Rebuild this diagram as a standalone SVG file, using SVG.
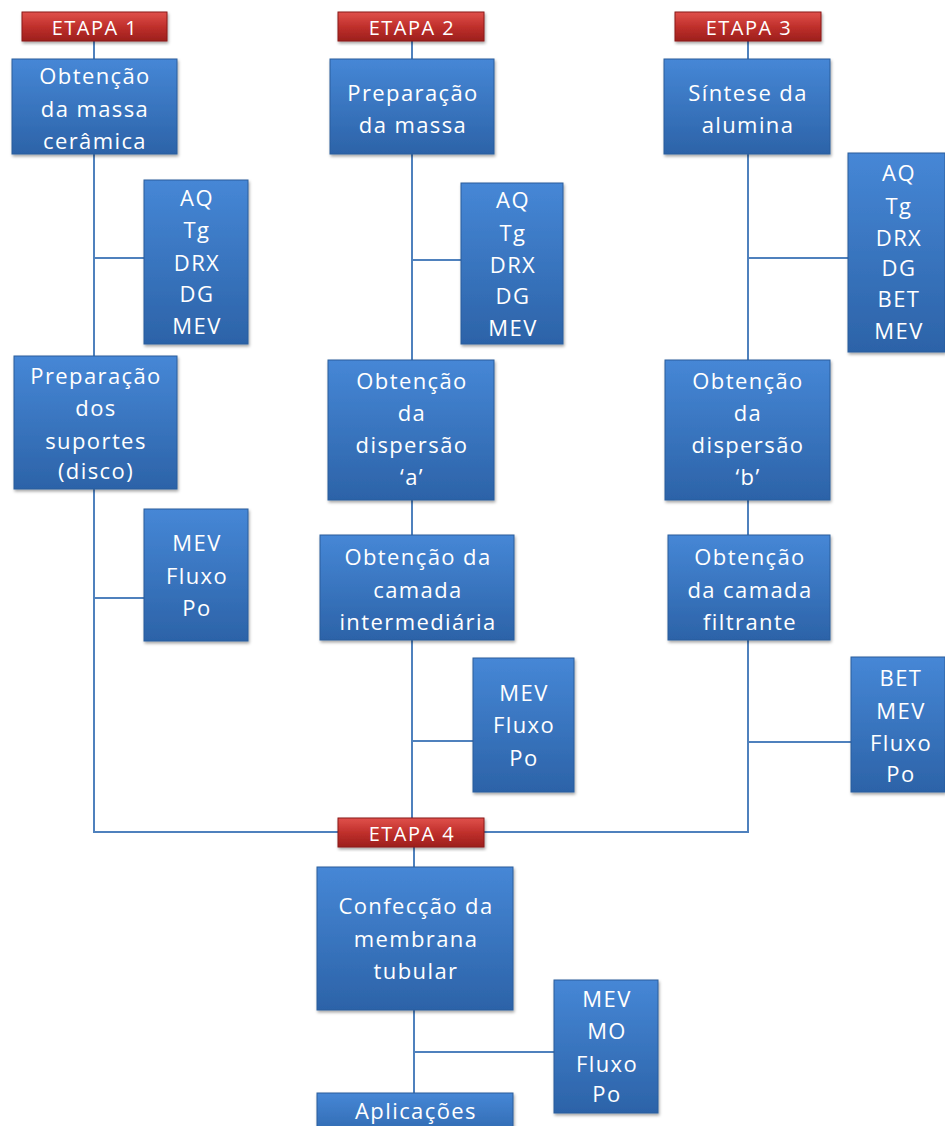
<svg xmlns="http://www.w3.org/2000/svg" width="945" height="1126" viewBox="0 0 945 1126">
<defs>
<linearGradient id="gb" x1="0" y1="0" x2="0" y2="1">
<stop offset="0" stop-color="#4687d6"/>
<stop offset="1" stop-color="#2c63a8"/>
</linearGradient>
<linearGradient id="gr" x1="0" y1="0" x2="0" y2="1">
<stop offset="0" stop-color="#e0504b"/>
<stop offset="0.5" stop-color="#c0302c"/>
<stop offset="1" stop-color="#9c1f1c"/>
</linearGradient>
<filter id="sh" x="-10%" y="-10%" width="125%" height="125%">
<feDropShadow dx="1" dy="2" stdDeviation="1.5" flood-color="#000" flood-opacity="0.35"/>
</filter>
</defs>
<style>
.b{fill:url(#gb);stroke:#2a5d9c;stroke-width:1;filter:url(#sh)}
.r{fill:url(#gr);stroke:#8a1a18;stroke-width:1;filter:url(#sh)}
.t{font-family:"Open Sans","Noto Sans",sans-serif;font-size:22px;fill:#fff;text-anchor:middle;dominant-baseline:central;letter-spacing:1.4px}
.e{font-family:"Open Sans","Noto Sans",sans-serif;font-size:20px;fill:#fff;text-anchor:middle;dominant-baseline:central;letter-spacing:1.5px}
.c{fill:none;stroke:#4f81bd;stroke-width:2}
</style>
<rect width="945" height="1126" fill="#fff"/>
<g id="connectors">
<path class="c" d="M94 41V832H338"/>
<path class="c" d="M94 258H144"/>
<path class="c" d="M94 598H144"/>
<path class="c" d="M412 41V818"/>
<path class="c" d="M412 260H461"/>
<path class="c" d="M412 741H473"/>
<path class="c" d="M748 41V832H484"/>
<path class="c" d="M748 258H848"/>
<path class="c" d="M748 742H851"/>
<path class="c" d="M414 847V1093"/>
<path class="c" d="M414 1052H554"/>
</g>
<g id="etapa1"><rect class="r" x="22" y="12" width="145" height="29"/><text class="e" x="95" y="27">ETAPA 1</text></g>
<g id="etapa2"><rect class="r" x="338" y="12" width="146" height="29"/><text class="e" x="412" y="27">ETAPA 2</text></g>
<g id="etapa3"><rect class="r" x="675" y="12" width="146" height="29"/><text class="e" x="749" y="27">ETAPA 3</text></g>
<g id="etapa4"><rect class="r" x="338" y="818" width="146" height="29"/><text class="e" x="412" y="833">ETAPA 4</text></g>

<g id="n1"><rect class="b" x="12" y="59" width="165" height="95"/>
<text class="t" x="95" y="75">Obtenção</text><text class="t" x="95" y="108">da massa</text><text class="t" x="95" y="140">cerâmica</text></g>
<g id="n1a"><rect class="b" x="144" y="180" width="104" height="164"/>
<text class="t" x="197" y="197">AQ</text><text class="t" x="197" y="229">Tg</text><text class="t" x="197" y="262">DRX</text><text class="t" x="197" y="293">DG</text><text class="t" x="197" y="325">MEV</text></g>
<g id="n1b"><rect class="b" x="14" y="356" width="163" height="133"/>
<text class="t" x="96" y="375">Preparação</text><text class="t" x="96" y="407">dos</text><text class="t" x="96" y="440">suportes</text><text class="t" x="96" y="470">(disco)</text></g>
<g id="n1c"><rect class="b" x="144" y="509" width="104" height="132"/>
<text class="t" x="197" y="542">MEV</text><text class="t" x="197" y="575">Fluxo</text><text class="t" x="197" y="607">Po</text></g>

<g id="n2"><rect class="b" x="330" y="59" width="164" height="95"/>
<text class="t" x="413" y="92">Preparação</text><text class="t" x="413" y="124">da massa</text></g>
<g id="n2a"><rect class="b" x="461" y="183" width="102" height="161"/>
<text class="t" x="513" y="199">AQ</text><text class="t" x="513" y="232">Tg</text><text class="t" x="513" y="264">DRX</text><text class="t" x="513" y="295">DG</text><text class="t" x="513" y="327">MEV</text></g>
<g id="n2b"><rect class="b" x="328" y="360" width="166" height="140"/>
<text class="t" x="412" y="380">Obtenção</text><text class="t" x="412" y="412">da</text><text class="t" x="412" y="444">dispersão</text><text class="t" x="412" y="476">&#8216;a&#8217;</text></g>
<g id="n2c"><rect class="b" x="320" y="535" width="194" height="105"/>
<text class="t" x="418" y="556">Obtenção da</text><text class="t" x="418" y="589">camada</text><text class="t" x="418" y="621">intermediária</text></g>
<g id="n2d"><rect class="b" x="473" y="658" width="101" height="134"/>
<text class="t" x="524" y="692">MEV</text><text class="t" x="524" y="724">Fluxo</text><text class="t" x="524" y="757">Po</text></g>

<g id="n3"><rect class="b" x="664" y="59" width="166" height="95"/>
<text class="t" x="748" y="92">Síntese da</text><text class="t" x="748" y="124">alumina</text></g>
<g id="n3a"><rect class="b" x="848" y="153" width="97" height="199"/>
<text class="t" x="899" y="172">AQ</text><text class="t" x="899" y="205">Tg</text><text class="t" x="899" y="237">DRX</text><text class="t" x="899" y="267">DG</text><text class="t" x="899" y="298">BET</text><text class="t" x="899" y="330">MEV</text></g>
<g id="n3b"><rect class="b" x="665" y="360" width="165" height="140"/>
<text class="t" x="748" y="380">Obtenção</text><text class="t" x="748" y="412">da</text><text class="t" x="748" y="444">dispersão</text><text class="t" x="748" y="476">&#8216;b&#8217;</text></g>
<g id="n3c"><rect class="b" x="668" y="535" width="162" height="105"/>
<text class="t" x="750" y="556">Obtenção</text><text class="t" x="750" y="589">da camada</text><text class="t" x="750" y="621">filtrante</text></g>
<g id="n3d"><rect class="b" x="851" y="657" width="94" height="135"/>
<text class="t" x="901" y="677">BET</text><text class="t" x="901" y="710">MEV</text><text class="t" x="901" y="742">Fluxo</text><text class="t" x="901" y="773">Po</text></g>

<g id="n4"><rect class="b" x="317" y="867" width="196" height="143"/>
<text class="t" x="416" y="905">Confecção da</text><text class="t" x="416" y="938">membrana</text><text class="t" x="416" y="970">tubular</text></g>
<g id="n4a"><rect class="b" x="554" y="980" width="104" height="133"/>
<text class="t" x="607" y="998">MEV</text><text class="t" x="607" y="1030">MO</text><text class="t" x="607" y="1063">Fluxo</text><text class="t" x="607" y="1093">Po</text></g>
<g id="n5"><rect class="b" x="317" y="1093" width="196" height="50"/>
<text class="t" x="416" y="1110">Aplicações</text></g>
</svg>
